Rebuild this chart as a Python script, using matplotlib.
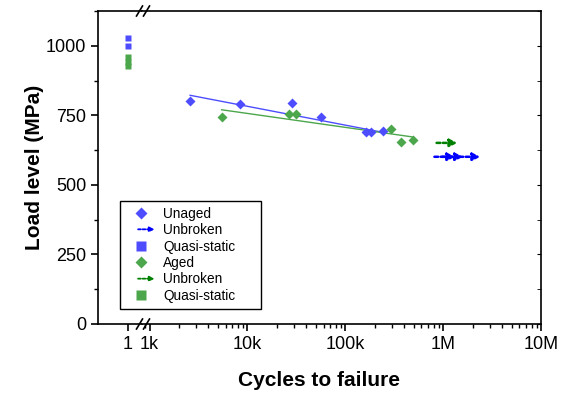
import numpy as np
import matplotlib
matplotlib.use('Agg')
import matplotlib.pyplot as plt
from matplotlib.lines import Line2D
from matplotlib.patches import FancyArrowPatch
from matplotlib.legend_handler import HandlerBase
from matplotlib.ticker import FixedLocator, LogLocator, NullFormatter, AutoMinorLocator

plt.rcParams['font.family'] = ['Liberation Sans', 'DejaVu Sans']

# Unaged (blue)
unaged_N = [2600, 8400, 28300, 56900, 163000, 184000, 241000]
unaged_S = [800, 791, 795, 745, 689, 689, 692]
unaged_fit_N = [2600, 241000]
unaged_fit_S = [822, 689]
unaged_runout_N = [1.33e6, 1.6e6, 2.4e6]
unaged_runout_S = [601, 601, 601]
unaged_qs = [1027, 999]

# Aged (green)
aged_N = [5460, 26400, 31400, 291000, 368000, 495000]
aged_S = [745, 754, 754, 700, 653, 660]
aged_fit_N = [5460, 495000]
aged_fit_S = [770, 672]
aged_runout_N = [1.4e6]
aged_runout_S = [651]
aged_qs = [960, 942, 926]

xticks = [1e3, 1e4, 1e5, 1e6, 1e7]
xticklabels = ['1k', '10k', '100k', '1M', '10M']

blue = '#4d4dff'
green = '#4ca64c'
blue_dark = '#0000ff'
green_dark = '#008000'

W, H = 566, 394
fig = plt.figure(figsize=(W/100, H/100), dpi=100)
bot = (H-324)/H
top = (H-11)/H
ax1 = fig.add_axes([98/W, bot, 44/W, top-bot])
ax2 = fig.add_axes([142/W, bot, 399/W, top-bot], sharey=ax1)

# quasi-static points on the left piece
ax1.plot([1]*len(unaged_qs), unaged_qs, 's', color=blue, ms=5, mec='none')
ax1.plot([1]*len(aged_qs), aged_qs, 's', color=green, ms=5, mec='none')
ax1.set_xlim(0, 1.466)
ax1.set_xticks([1])
ax1.set_xticklabels(['1'])

# fatigue data
ax2.plot(unaged_fit_N, unaged_fit_S, '-', color=blue, lw=1)
ax2.plot(aged_fit_N, aged_fit_S, '-', color=green, lw=1)
ax2.plot(unaged_N, unaged_S, 'D', color=blue, ms=5.5, mec='none')
ax2.plot(aged_N, aged_S, 'D', color=green, ms=5.5, mec='none')
for xx, yy in zip(unaged_runout_N, unaged_runout_S):
    ax2.annotate('', xy=(xx, yy), xytext=(-15, 0), textcoords='offset points',
                 arrowprops=dict(arrowstyle='-|>', ls=(0, (1.5, 1)), lw=1.8, color=blue_dark,
                                 mutation_scale=11, shrinkA=0, shrinkB=0))
for xx, yy in zip(aged_runout_N, aged_runout_S):
    ax2.annotate('', xy=(xx, yy), xytext=(-15, 0), textcoords='offset points',
                 arrowprops=dict(arrowstyle='-|>', ls=(0, (1.5, 1)), lw=1.8, color=green_dark,
                                 mutation_scale=11, shrinkA=0, shrinkB=0))

ax2.set_xscale('log')
ax2.set_xlim(838, 1e7)
ax2.xaxis.set_major_locator(FixedLocator(xticks))
ax2.set_xticklabels(xticklabels)
ax2.xaxis.set_minor_locator(LogLocator(base=10, subs=np.arange(2, 10)))
ax2.xaxis.set_minor_formatter(NullFormatter())

ax1.set_ylim(0, 1125)
ax1.set_yticks([0, 250, 500, 750, 1000])
ax1.yaxis.set_minor_locator(AutoMinorLocator(2))

for a in (ax1, ax2):
    for s in a.spines.values():
        s.set_linewidth(1.2)
ax1.spines['right'].set_visible(False)
ax2.spines['left'].set_visible(False)
ax1.tick_params(axis='both', which='major', direction='out', length=5, width=1.2, labelsize=13)
ax1.tick_params(axis='both', which='minor', direction='out', length=3, width=1.0)
ax2.tick_params(axis='y', which='both', left=False, labelleft=False, right=True, direction='in', length=3)
ax2.tick_params(axis='x', which='major', direction='out', length=5, width=1.2, labelsize=13)
ax2.tick_params(axis='x', which='minor', direction='out', length=3, width=1.0)

ax1.set_ylabel('Load level (MPa)', fontsize=15, fontweight='bold', labelpad=1)
fig.text(319/W, 1-380/H, 'Cycles to failure', fontsize=15, fontweight='bold',
         ha='center', va='center')

# break marks
for yb in (324, 11):
    for xb in (139.5, 146.5):
        fig.add_artist(Line2D([(xb-3)/W, (xb+3)/W], [1-(yb+5)/H, 1-(yb-5)/H],
                              color='black', lw=1.2))


class ArrowHandler(HandlerBase):
    def create_artists(self, legend, orig, xd, yd, w, h, fontsize, trans):
        a = FancyArrowPatch((xd + w*0.4, yd + h/2), (xd + w*0.95, yd + h/2),
                            arrowstyle='-|>', mutation_scale=7, ls=(0, (1.5, 1)), lw=1.3,
                            color=orig.get_color(), transform=trans,
                            shrinkA=0, shrinkB=0)
        return [a]


arr_b = Line2D([], [], color=blue_dark)
arr_g = Line2D([], [], color=green_dark)
handles = [
    Line2D([], [], ls='none', marker='D', color=blue, ms=6, mec='none'),
    arr_b,
    Line2D([], [], ls='none', marker='s', color=blue, ms=7, mec='none'),
    Line2D([], [], ls='none', marker='D', color=green, ms=6, mec='none'),
    arr_g,
    Line2D([], [], ls='none', marker='s', color=green, ms=7, mec='none'),
]
labels = ['Unaged', 'Unbroken', 'Quasi-static', 'Aged', 'Unbroken', 'Quasi-static']
leg = fig.legend(handles, labels, loc='lower left',
                 bbox_to_anchor=(120/W, 1-309/H, 141/W, 0.1), mode='expand', fontsize=9.8,
                 handler_map={arr_b: ArrowHandler(), arr_g: ArrowHandler()},
                 handlelength=2.2, handletextpad=0.5, labelspacing=0.18,
                 borderpad=0.45, borderaxespad=0, fancybox=False, framealpha=1)
leg.get_frame().set_edgecolor('black')
leg.get_frame().set_linewidth(1.0)

plt.savefig('out.png', dpi=100)
